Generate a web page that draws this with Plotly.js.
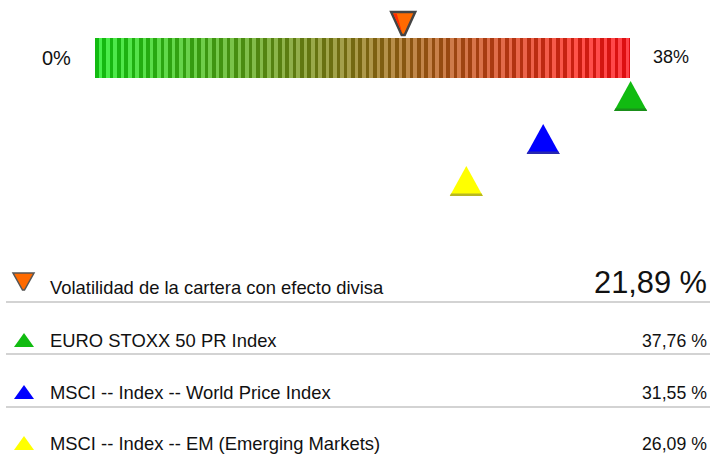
<!DOCTYPE html>
<html>
<head>
<meta charset="utf-8">
<script src="https://cdn.plot.ly/plotly-3.0.1.min.js"></script>
<style>html,body{margin:0;padding:0;background:#fff;}#chart{width:715px;height:454px;}</style>
</head>
<body>
<div id="chart"></div>
<script>
// ---- data ----
const scaleMin = 0;
const scaleMax = 38;
const scaleLabels = ['0%', '38%'];
const seriesNames = [
  'Volatilidad de la cartera con efecto divisa',
  'EURO STOXX 50 PR Index',
  'MSCI -- Index -- World Price Index',
  'MSCI -- Index -- EM (Emerging Markets)'
];
const seriesValues = [21.89, 37.76, 31.55, 26.09];
const seriesValueLabels = ['21,89 %', '37,76 %', '31,55 %', '26,09 %'];
const seriesColors = ['#ff6a00', '#11bb11', '#0000ff', '#ffff00'];
const seriesEdge = ['#444444', '#1a8f1a', '#2828b0', '#b8b820'];

// ---- layout geometry (pixels) ----
const FONT = '"Liberation Sans", Arial, sans-serif';
const W = 715, H = 454;
const barLeft = 95, barRight = 630, barTop = 38, barBottom = 78;
const k = (barRight - barLeft) / (scaleMax - scaleMin);
const xr = [scaleMin - barLeft / k, scaleMin + (W - barLeft) / k];
const markerBase = [37, 111, 154, 196];   // pixel y of triangle base / tip
const rowBase = [294, 347, 399, 450];     // text baselines
const sepY = [302, 354, 407];
const px = x => x / W;

// gradient stripes (decoration)
const stripeStep = 0.26;
const sx = [], sy = [], sb = [], sc = [], sw = [];
let idx = 0;
for (let v = scaleMin; v < scaleMax - 1e-9; v += stripeStep, idx++) {
  const w = Math.min(stripeStep, scaleMax - v);
  const t = (v + w / 2) / (scaleMax - scaleMin);
  let r = 17 + 206 * t, g = 188 - 175 * t, b = 17;
  const light = (idx % 2 === 1) ? 52 : 0;
  r = Math.min(255, r + light); g = Math.min(255, g + light); b = Math.min(255, b + light * 1.1);
  sx.push(v + w / 2); sw.push(w * 1.05); sy.push(barTop - barBottom); sb.push(barBottom);
  sc.push(`rgb(${Math.round(r)},${Math.round(g)},${Math.round(b)})`);
}

const traces = [{
  type: 'bar', x: sx, y: sy, base: sb, width: sw,
  marker: {color: sc, line: {width: 0}},
  hoverinfo: 'skip', showlegend: false
}];

const shapes = [];
const annotations = [];

// markers on the scale
seriesValues.forEach((v, i) => {
  if (i === 0) {
    shapes.push({type: 'path', xref: 'x', yref: 'y', xsizemode: 'pixel', ysizemode: 'pixel',
      xanchor: v, yanchor: markerBase[i],
      path: 'M-12,25 L12,25 L1.5,2 L-1.5,2 Z',
      fillcolor: seriesColors[i], line: {color: seriesEdge[i], width: 2.5}});
    shapes.push({type: 'path', xref: 'x', yref: 'y', xsizemode: 'pixel', ysizemode: 'pixel',
      xanchor: v, yanchor: markerBase[i],
      path: 'M-10,23.5 L-6.5,23.5 L-1,4 Z',
      fillcolor: '#ff2a00', line: {width: 0}});
  } else {
    shapes.push({type: 'path', xref: 'x', yref: 'y', xsizemode: 'pixel', ysizemode: 'pixel',
      xanchor: v, yanchor: markerBase[i],
      path: 'M-12.5,0 L20.5,0 L4,30 Z',
      fillcolor: seriesColors[i], line: {width: 0}});
    shapes.push({type: 'path', xref: 'x', yref: 'y', xsizemode: 'pixel', ysizemode: 'pixel',
      xanchor: v, yanchor: markerBase[i],
      path: 'M-12.5,0 L20.5,0 L19.3,2.5 L-11.3,2.5 Z',
      fillcolor: seriesEdge[i], line: {width: 0}});
  }
});

// scale end labels
annotations.push({xref: 'paper', yref: 'y', x: px(56), y: 58, xanchor: 'center', yanchor: 'middle',
  text: scaleLabels[0], showarrow: false, font: {family: FONT, size: 20, color: '#111'}});
annotations.push({xref: 'paper', yref: 'y', x: px(671), y: 57, xanchor: 'center', yanchor: 'middle',
  text: scaleLabels[1], showarrow: false, font: {family: FONT, size: 18, color: '#111'}});

// legend rows
seriesNames.forEach((name, i) => {
  const base = rowBase[i];
  const lab = 18.4;
  annotations.push({xref: 'paper', yref: 'y', x: px(48), y: base - 0.36 * lab, xanchor: 'left', yanchor: 'middle',
    text: name, showarrow: false, font: {family: FONT, size: lab, color: '#111'}});
  const vs = i === 0 ? 30.8 : 17.7;
  annotations.push({xref: 'paper', yref: 'y', x: px(709), y: base - 0.36 * vs, xanchor: 'right', yanchor: 'middle',
    text: seriesValueLabels[i], showarrow: false, font: {family: FONT, size: vs, color: '#111'}});
  // icon
  if (i === 0) {
    shapes.push({type: 'path', xref: 'paper', yref: 'y',
      path: `M${px(13)},273 L${px(34)},273 L${px(24.5)},290 L${px(22.5)},290 Z`,
      fillcolor: seriesColors[i], line: {color: '#555', width: 1.5}});
  } else {
    const b = base;
    shapes.push({type: 'path', xref: 'paper', yref: 'y',
      path: `M${px(14)},${b} L${px(34)},${b} L${px(24)},${b - 14} Z`,
      fillcolor: seriesColors[i], line: {width: 0}});
  }
});

// separators
sepY.forEach(y => {
  shapes.push({type: 'line', xref: 'paper', yref: 'y', x0: px(6), x1: px(710), y0: y, y1: y,
    line: {color: '#c4c4c4', width: 1.5}});
});

const layout = {
  width: W, height: H,
  margin: {l: 0, r: 0, t: 0, b: 0, pad: 0},
  paper_bgcolor: '#ffffff', plot_bgcolor: '#ffffff',
  showlegend: false,
  font: {family: FONT},
  xaxis: {range: xr, visible: false, fixedrange: true},
  yaxis: {range: [H, 0], visible: false, fixedrange: true},
  shapes: shapes,
  annotations: annotations,
  bargap: 0
};

Plotly.newPlot('chart', traces, layout, {displayModeBar: false, staticPlot: true});
</script>
</body>
</html>
